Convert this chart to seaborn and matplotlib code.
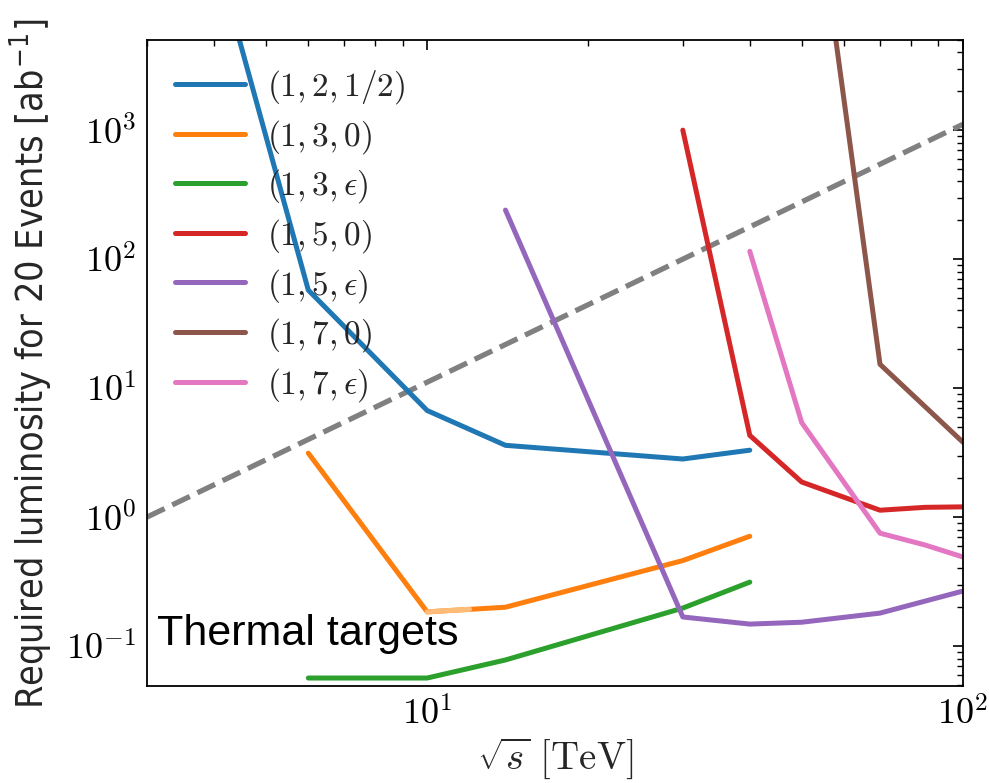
import numpy as np
import pandas as pd
import matplotlib
matplotlib.use("Agg")
import matplotlib.pyplot as plt
import seaborn as sns
from matplotlib.ticker import LogLocator, FuncFormatter, NullFormatter
from matplotlib import font_manager

# ---- data ----
labels = [r"$(1,2,1/2)$", r"$(1,3,0)$", r"$(1,3,\epsilon)$", r"$(1,5,0)$",
          r"$(1,5,\epsilon)$", r"$(1,7,0)$", r"$(1,7,\epsilon)$"]

x_122 = [4, 6, 10, 14, 30, 40]
y_122 = [2.6e4, 57.5, 6.7, 3.6, 2.82, 3.3]

x_130 = [6, 10, 14, 30, 40]
y_130 = [3.13, 0.184, 0.20, 0.46, 0.71]

x_13e = [6, 10, 14, 30, 40]
y_13e = [0.0565, 0.0565, 0.078, 0.197, 0.313]

x_150 = [30, 40, 50, 70, 85, 100]
y_150 = [1000, 4.3, 1.87, 1.13, 1.19, 1.2]

x_15e = [14, 30, 40, 50, 70, 100]
y_15e = [240, 0.168, 0.148, 0.153, 0.18, 0.267]

x_170 = [50, 70, 100]
y_170 = [4.4e5, 15.3, 3.8]

x_17e = [40, 50, 70, 85, 100]
y_17e = [115, 5.4, 0.75, 0.607, 0.49]

# highlighted (pale) part of the (1,3,0) curve
x_hl = [10, 12]
y_hl = [0.184, 0.193]

# reference dashed line
x_ref = [3, 100]
y_ref = [1.0, 1111.0]

xs = [x_122, x_130, x_13e, x_150, x_15e, x_170, x_17e]
ys = [y_122, y_130, y_13e, y_150, y_15e, y_170, y_17e]

frames = []
for lab, xx, yy in zip(labels, xs, ys):
    frames.append(pd.DataFrame({"x": xx, "y": yy, "series": lab}))
df = pd.DataFrame(pd.concat(frames, ignore_index=True))

# ---- style ----
sns.set_style("white")
plt.rcParams["mathtext.fontset"] = "cm"
plt.rcParams["font.family"] = ["DejaVu Sans"]
plt.rcParams["xtick.direction"] = "in"
plt.rcParams["ytick.direction"] = "in"

fig = plt.figure(figsize=(9.89, 7.83), dpi=100)
ax = fig.add_axes([147 / 989, 1 - 686 / 783, (963 - 147) / 989, (686 - 40) / 783])

sns.lineplot(x=x_ref, y=y_ref, ax=ax, color="#808080", lw=3.8,
             linestyle="--", zorder=1)

palette = sns.color_palette("tab10", 7)
sns.lineplot(data=df, x="x", y="y", hue="series", hue_order=labels,
             palette=palette, sort=False, estimator=None, units="series",
             lw=3.6, ax=ax, legend=False, zorder=2)

sns.lineplot(x=x_hl, y=y_hl, ax=ax, color="#ffbb78", lw=3.6, zorder=3)

ax.set_xscale("log")
ax.set_yscale("log")
ax.set_xlim(3, 100)
ax.set_ylim(0.049, 5000)

fmt = FuncFormatter(lambda v, p: r"$10^{%d}$" % int(round(np.log10(v))))
ax.xaxis.set_major_locator(LogLocator(base=10, numticks=10))
ax.yaxis.set_major_locator(LogLocator(base=10, numticks=10))
ax.xaxis.set_major_formatter(fmt)
ax.yaxis.set_major_formatter(fmt)
ax.xaxis.set_minor_locator(LogLocator(base=10, subs=np.arange(2, 10), numticks=20))
ax.yaxis.set_minor_locator(LogLocator(base=10, subs=np.arange(2, 10), numticks=20))
ax.xaxis.set_minor_formatter(NullFormatter())
ax.yaxis.set_minor_formatter(NullFormatter())
ax.tick_params(which="both", direction="in", top=True, right=True, colors="black")
ax.tick_params(which="major", length=7, width=1.2, labelsize=26, pad=8)
ax.tick_params(which="minor", length=4, width=1.0)
for s in ax.spines.values():
    s.set_color("black")
    s.set_linewidth(1.3)

ax.set_xlabel(r"$\sqrt{s}\ [\mathrm{TeV}]$", fontsize=28, labelpad=2)

cond = [f for f in font_manager.fontManager.ttflist
        if f.name == "DejaVu Sans" and "ondensed" in f.fname
        and f.style == "normal" and f.weight in (400, "normal", "regular")]
if cond:
    yfp = font_manager.FontProperties(fname=cond[0].fname, size=27)
else:
    yfp = font_manager.FontProperties(family="DejaVu Sans", size=23)
ax.set_ylabel(r"Required luminosity for 20 Events [ab$^{\mathregular{-1}}$]",
              fontproperties=yfp, labelpad=8)

ax.text(0.012, 0.063, "Thermal targets", transform=ax.transAxes,
        fontsize=31, family=["Liberation Sans", "DejaVu Sans"],
        ha="left", va="baseline", color="black")

handles = [plt.Line2D([], [], color=palette[i], lw=3.6) for i in range(7)]
ax.legend(handles, labels, loc="upper left", frameon=False, fontsize=24,
          handlelength=2.1, handletextpad=0.65, labelspacing=0.35,
          borderaxespad=0.45)

fig.savefig("out.png", dpi=100)
